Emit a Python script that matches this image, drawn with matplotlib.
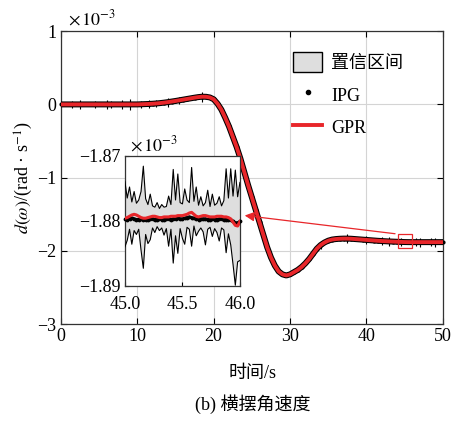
import numpy as np
import matplotlib
matplotlib.use('Agg')
import matplotlib.pyplot as plt
from matplotlib.patches import Patch, Rectangle
from matplotlib.lines import Line2D

plt.rcParams['font.family'] = ['Liberation Serif', 'Noto Sans CJK SC']
plt.rcParams['mathtext.fontset'] = 'stix'
plt.rcParams['axes.unicode_minus'] = True

# main series, every 0.5 s, values in 1e-3 rad/s^2
t_main = np.arange(0, 50.01, 0.5)
y_main = [0.0] * 21 + [
    0.002, 0.004, 0.006, 0.009, 0.013, 0.018, 0.024, 0.031, 0.039, 0.047,   # 10.5 - 15.0
    0.056, 0.065, 0.074, 0.083, 0.092, 0.100, 0.105, 0.104, 0.095, 0.070,   # 15.5 - 20.0
    0.010, -0.070, -0.180, -0.300, -0.440, -0.580, -0.740, -0.920, -1.100, -1.270,   # 20.5 - 25.0
    -1.440, -1.610, -1.780, -1.950, -2.090, -2.200, -2.280, -2.320, -2.335, -2.320,  # 25.5 - 30.0
    -2.290, -2.260, -2.220, -2.170, -2.110, -2.040, -1.970, -1.920, -1.885, -1.860,  # 30.5 - 35.0
    -1.845, -1.838, -1.834, -1.832, -1.832, -1.834, -1.838, -1.842, -1.846, -1.850,  # 35.5 - 40.0
    -1.854, -1.858, -1.862, -1.865, -1.868, -1.871, -1.873, -1.875, -1.877, -1.879,  # 40.5 - 45.0
    -1.880, -1.880, -1.880, -1.880, -1.880, -1.880, -1.880, -1.880, -1.880, -1.880,  # 45.5 - 50.0
]
# confidence-interval spikes visible in the main view (index into t_main, half width)
spike_idx = [3, 5, 9, 12, 13, 16, 18, 21, 23, 25, 28, 31, 37, 68, 75, 80, 84, 86, 89, 93, 94, 97, 98]
spike_hw = [0.05, 0.06, 0.05, 0.06, 0.05, 0.06, 0.07, 0.05, 0.06, 0.05, 0.06, 0.05, 0.07,
            0.05, 0.06, 0.05, 0.05, 0.06, 0.06, 0.05, 0.06, 0.05, 0.06]

# zoomed window 45-46 s, every 0.02 s
t_zoom = np.arange(45.0, 46.001, 0.02)
gpr_zoom = [
    -1.8796, -1.8795, -1.8793, -1.8791, -1.8790, -1.8791, -1.8793, -1.8795, -1.8796, -1.8796,
    -1.8795, -1.8794, -1.8793, -1.8793, -1.8794, -1.8795, -1.8795, -1.8794, -1.8794, -1.8794,
    -1.8793, -1.8793, -1.8793, -1.8792, -1.8792, -1.8792, -1.8791, -1.8790, -1.8788, -1.8787,
    -1.8790, -1.8793, -1.8794, -1.8793, -1.8792, -1.8792, -1.8793, -1.8794, -1.8794, -1.8794,
    -1.8793, -1.8793, -1.8793, -1.8794, -1.8794, -1.8795, -1.8797, -1.8802, -1.8807, -1.8808,
    -1.8801,
]
ipg_zoom = [
    -1.8797, -1.8798, -1.8797, -1.8796, -1.8797, -1.8798, -1.8798, -1.8797, -1.8798, -1.8799,
    -1.8798, -1.8797, -1.8797, -1.8798, -1.8798, -1.8797, -1.8798, -1.8798, -1.8797, -1.8797,
    -1.8798, -1.8797, -1.8797, -1.8796, -1.8797, -1.8797, -1.8796, -1.8795, -1.8794, -1.8795,
    -1.8796, -1.8797, -1.8798, -1.8797, -1.8797, -1.8797, -1.8798, -1.8798, -1.8797, -1.8798,
    -1.8798, -1.8797, -1.8797, -1.8798, -1.8798, -1.8798, -1.8799, -1.8801, -1.8803, -1.8803,
    -1.8801,
]
hw_up = [
    5.6, 3.0, 4.5, 2.0, 3.5, 1.8, 2.5, 4.0, 8.0, 3.0,
    2.0, 3.5, 1.6, 1.4, 2.2, 1.4, 2.0, 1.5, 1.6, 3.2,
    1.8, 7.2, 2.5, 6.4, 2.0, 1.8, 4.0, 2.2, 1.6, 6.9,
    2.0, 4.5, 1.8, 3.0, 1.5, 2.0, 4.0, 1.6, 3.5, 1.8,
    2.0, 3.0, 1.6, 2.5, 7.4, 3.0, 7.7, 4.0, 8.5, 4.5,
    6.0,
]
hw_low = [
    4.4, 3.5, 2.0, 4.5, 2.5, 3.0, 2.0, 5.0, 7.7, 2.5,
    4.0, 3.5, 1.8, 2.5, 1.5, 2.0, 1.6, 2.8, 1.8, 4.5,
    2.0, 7.2, 3.0, 5.8, 2.0, 3.5, 4.5, 2.0, 2.5, 5.2,
    1.8, 3.0, 2.2, 1.8, 2.5, 4.5, 2.0, 1.6, 3.0, 1.8,
    2.5, 3.8, 1.8, 2.0, 5.5, 2.5, 4.0, 6.5, 9.2, 5.5,
    6.0,
]

red = '#e8262a'
band = '#dedede'
fs = 13

y_main = np.array(y_main)
fig = plt.figure(figsize=(4.51, 4.21), dpi=100)
ax = fig.add_axes([0.135, 0.230, 0.847, 0.696])

ax.vlines(t_main[spike_idx], y_main[spike_idx] - np.array(spike_hw),
          y_main[spike_idx] + np.array(spike_hw), color='k', lw=0.8, zorder=2)
ax.plot(t_main, y_main, color='k', lw=4.3, zorder=3)
ax.plot(t_main, y_main, 'k.', ms=4, zorder=3, clip_on=False)
ax.plot(t_main, y_main, color=red, lw=2.8, zorder=4)

ax.set_xlim(0, 50)
ax.set_ylim(-3, 1)
ax.set_xticks([0, 10, 20, 30, 40, 50])
ax.set_yticks([-3, -2, -1, 0, 1])
ax.grid(True, color='#d4d4d4', lw=0.8)
ax.set_axisbelow(True)
ax.tick_params(direction='in', top=True, right=True, length=4, labelsize=fs, pad=3)
for s in ax.spines.values():
    s.set_color('#333333')
    s.set_linewidth(0.9)
ax.text(0.018, 1.008, r'$\times\,10^{-3}$', transform=ax.transAxes, fontsize=fs,
        ha='left', va='bottom')
ax.set_ylabel(r'$d(\omega)$/(rad · s$^{-1}$)', fontsize=fs, labelpad=2)

# legend
handles = [Patch(facecolor=band, edgecolor='k', lw=1.0),
           Line2D([], [], color='k', marker='.', ms=6, ls='none'),
           Line2D([], [], color=red, lw=2.8)]
ax.legend(handles, ['置信区间', 'IPG', 'GPR'], loc='upper left', bbox_to_anchor=(0.59, 0.955),
          frameon=False, fontsize=fs, handlelength=1.6, handleheight=1.4,
          labelspacing=0.65, handletextpad=0.5, borderaxespad=0)

# zoom box and arrow
ax.add_patch(Rectangle((44.1, -1.96), 1.8, 0.19, fill=False, edgecolor=red, lw=0.9, zorder=5))
ax.annotate('', xy=(23.7, -1.512), xytext=(44.1, -1.77),
            arrowprops=dict(arrowstyle='-|>', color=red, lw=0.9, mutation_scale=14), zorder=6)

# inset
axi = fig.add_axes([0.277, 0.321, 0.255, 0.309])
up = np.array(gpr_zoom) + np.array(hw_up) / 1000
lo = np.array(gpr_zoom) - np.array(hw_low) / 1000
axi.fill_between(t_zoom, lo, up, facecolor=band, edgecolor='none', zorder=2)
axi.plot(t_zoom, up, color='k', lw=0.8, zorder=3)
axi.plot(t_zoom, lo, color='k', lw=0.8, zorder=3)
axi.plot(t_zoom, ipg_zoom, color='k', lw=2.2, zorder=4)
axi.plot(t_zoom, ipg_zoom, 'k.', ms=3.5, zorder=4, clip_on=False)
axi.plot(t_zoom, gpr_zoom, color=red, lw=2.2, zorder=5)
axi.set_xlim(45.0, 46.0)
axi.set_ylim(-1.89, -1.87)
axi.set_xticks([45.0, 45.5, 46.0])
axi.set_xticklabels(['45.0', '45.5', '46.0'])
axi.set_yticks([-1.89, -1.88, -1.87])
axi.set_yticklabels(['−1.89', '−1.88', '−1.87'])
axi.grid(True, color='#d4d4d4', lw=0.8)
axi.set_axisbelow(True)
axi.tick_params(direction='in', length=3, labelsize=fs)
axi.tick_params(axis='x', pad=7)
axi.tick_params(axis='y', pad=3)
for s in axi.spines.values():
    s.set_color('#333333')
    s.set_linewidth(0.9)
axi.text(0.04, 1.01, r'$\times\,10^{-3}$', transform=axi.transAxes, fontsize=fs,
         ha='left', va='bottom')

fig.text(0.56, 0.113, '时间/s', fontsize=fs, ha='center', va='center')
fig.text(0.56, 0.040, '(b) 横摆角速度', fontsize=fs, ha='center', va='center')

fig.savefig('out.png', dpi=100)
